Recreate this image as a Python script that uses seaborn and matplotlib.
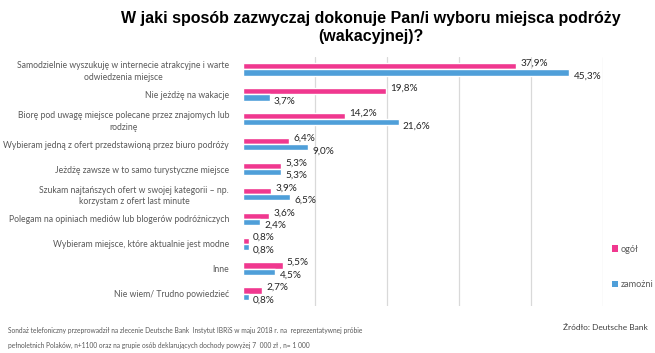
import matplotlib
matplotlib.use("Agg")
import matplotlib.pyplot as plt
import seaborn as sns
import pandas as pd
from matplotlib.patches import Patch

categories = [
    "Samodzielnie wyszukuję w internecie atrakcyjne i warte\nodwiedzenia miejsce",
    "Nie jeżdżę na wakacje",
    "Biorę pod uwagę miejsce polecane przez znajomych lub\nrodzinę",
    "Wybieram jedną z ofert przedstawioną przez biuro podróży",
    "Jeżdżę zawsze w to samo turystyczne miejsce",
    "Szukam najtańszych ofert w swojej kategorii – np.\nkorzystam z ofert last minute",
    "Polegam na opiniach mediów lub blogerów podróżniczych",
    "Wybieram miejsce, które aktualnie jest modne",
    "Inne",
    "Nie wiem/ Trudno powiedzieć",
]
series_names = ["ogół", "zamożni"]
ogol = [37.9, 19.8, 14.2, 6.4, 5.3, 3.9, 3.6, 0.8, 5.5, 2.7]
zamozni = [45.3, 3.7, 21.6, 9.0, 5.3, 6.5, 2.4, 0.8, 4.5, 0.8]
colors = ["#F0388F", "#4F9FD9"]

df = pd.DataFrame({
    "kat": categories * 2,
    "seria": [series_names[0]] * len(categories) + [series_names[1]] * len(categories),
    "val": ogol + zamozni,
})

sns.set_style("white")
plt.rcParams["font.family"] = ["Lato", "DejaVu Sans"]

fig = plt.figure(figsize=(6.55, 3.53), dpi=100)
ax = fig.add_axes([243 / 655, 1 - 306 / 353, 360 / 655, 249 / 353])

sns.barplot(data=df, y="kat", x="val", hue="seria", orient="h",
            palette=colors, width=0.5, ax=ax, legend=False,
            saturation=1, errorbar=None)

ax.set_xlim(0, 50)
ax.set_xticks([10, 20, 30, 40, 50])
ax.set_xticklabels([])
ax.tick_params(axis="x", length=0)
ax.grid(axis="x", color="#D9D9D9", linewidth=0.9)
ax.set_axisbelow(True)
for s in ["top", "right", "bottom", "left"]:
    ax.spines[s].set_visible(False)
ax.set_xlabel("")
ax.set_ylabel("")
ax.tick_params(axis="y", length=0, pad=10, labelsize=6.2, labelcolor="#595959")
for t in ax.get_yticklabels():
    t.set_multialignment("center")
    t.set_linespacing(1.35)

# value labels
for ci, cont in enumerate(ax.containers):
    for bar in cont:
        w = bar.get_width()
        yc = bar.get_y() + bar.get_height() / 2
        dy = -0.12 if ci == 0 else 0.14
        ax.text(w + 0.6, yc + dy, f"{w:.1f}%".replace(".", ","),
                va="center", ha="left", fontsize=7.2, color="#262626")

# legend
handles = [Patch(facecolor=c, edgecolor="none") for c in colors]
fig.legend(handles, series_names, loc="upper left",
           bbox_to_anchor=(608 / 655, 1 - 241 / 353), frameon=False,
           fontsize=6.6, labelcolor="#595959", handlelength=0.7,
           handleheight=0.7, handletextpad=0.3, labelspacing=2.9,
           borderaxespad=0)

fig.text(371 / 655, 1 - 27 / 353,
         "W jaki sposób zazwyczaj dokonuje Pan/i wyboru miejsca podróży\n(wakacyjnej)?",
         ha="center", va="center", fontsize=11.5, fontweight="bold",
         family=["Liberation Sans", "DejaVu Sans"], color="#000000",
         linespacing=1.25)

fig.text(8 / 655, 1 - 330 / 353,
         "Sondaż telefoniczny przeprowadził na zlecenie Deutsche Bank  Instytut IBRiS w maju 2018 r. na  reprezentatywnej próbie",
         ha="left", va="center", fontsize=4.8, color="#595959")
fig.text(8 / 655, 1 - 345 / 353,
         "pełnoletnich Polaków, n+1100 oraz na grupie osób deklarujących dochody powyżej 7  000 zł , n= 1 000",
         ha="left", va="center", fontsize=4.8, color="#595959")
fig.text(563 / 655, 1 - 327 / 353, "Źródło: Deutsche Bank",
         ha="left", va="center", fontsize=6.0, color="#404040")

fig.savefig("out.png", dpi=100)
